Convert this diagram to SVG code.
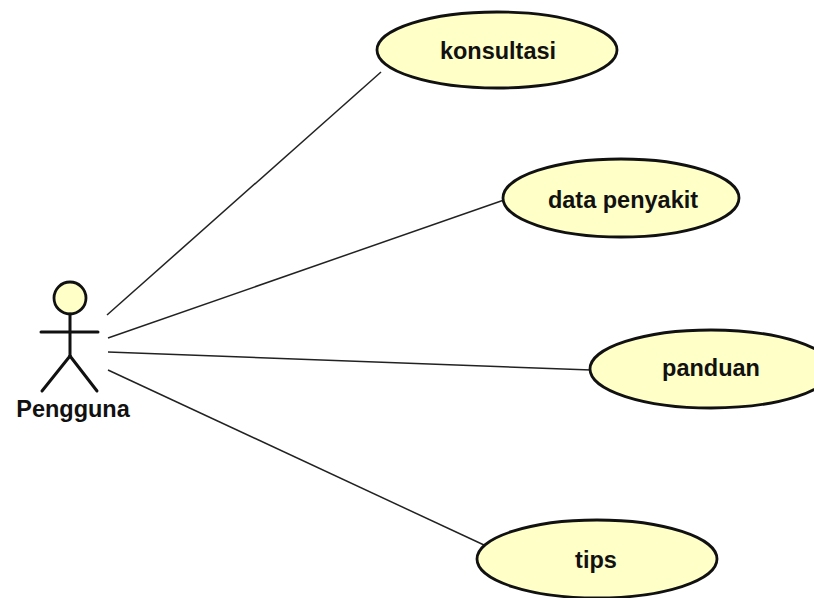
<svg xmlns="http://www.w3.org/2000/svg" width="814" height="598" viewBox="0 0 814 598">
<style>
.uc{fill:#FFFFC8;stroke:#111;stroke-width:2.8}
.lbl{font-family:"Liberation Sans",Arial,sans-serif;font-size:23.5px;font-weight:bold;fill:#111;text-anchor:middle}
.con{stroke:#222;stroke-width:1.5;fill:none}
.act{stroke:#111;stroke-width:3;fill:none;stroke-linecap:round}
</style>
<rect width="814" height="598" fill="#fff"/>
<g id="connectors">
<line class="con" x1="107" y1="315" x2="381" y2="72"/>
<line class="con" x1="108" y1="338" x2="504" y2="200"/>
<line class="con" x1="108" y1="352" x2="591" y2="370"/>
<line class="con" x1="108" y1="370" x2="484" y2="545"/>
</g>
<g id="actor-pengguna">
<circle cx="70" cy="298" r="16" fill="#FFFFC8" stroke="#111" stroke-width="2.8"/>
<line class="act" x1="70" y1="314" x2="70" y2="356"/>
<line class="act" x1="41" y1="332" x2="98" y2="332"/>
<line class="act" x1="70" y1="356" x2="42" y2="391"/>
<line class="act" x1="70" y1="356" x2="97" y2="391"/>
<text class="lbl" x="73" y="417">Pengguna</text>
</g>
<g id="uc-konsultasi">
<ellipse class="uc" cx="497" cy="50" rx="120" ry="38"/>
<text class="lbl" x="498" y="59">konsultasi</text>
</g>
<g id="uc-data-penyakit">
<ellipse class="uc" cx="621" cy="198" rx="118" ry="39"/>
<text class="lbl" x="623" y="208">data penyakit</text>
</g>
<g id="uc-panduan">
<ellipse class="uc" cx="711" cy="369" rx="121" ry="39"/>
<text class="lbl" x="711" y="376">panduan</text>
</g>
<g id="uc-tips">
<ellipse class="uc" cx="597" cy="559" rx="120" ry="39"/>
<text class="lbl" x="596" y="568">tips</text>
</g>
</svg>
